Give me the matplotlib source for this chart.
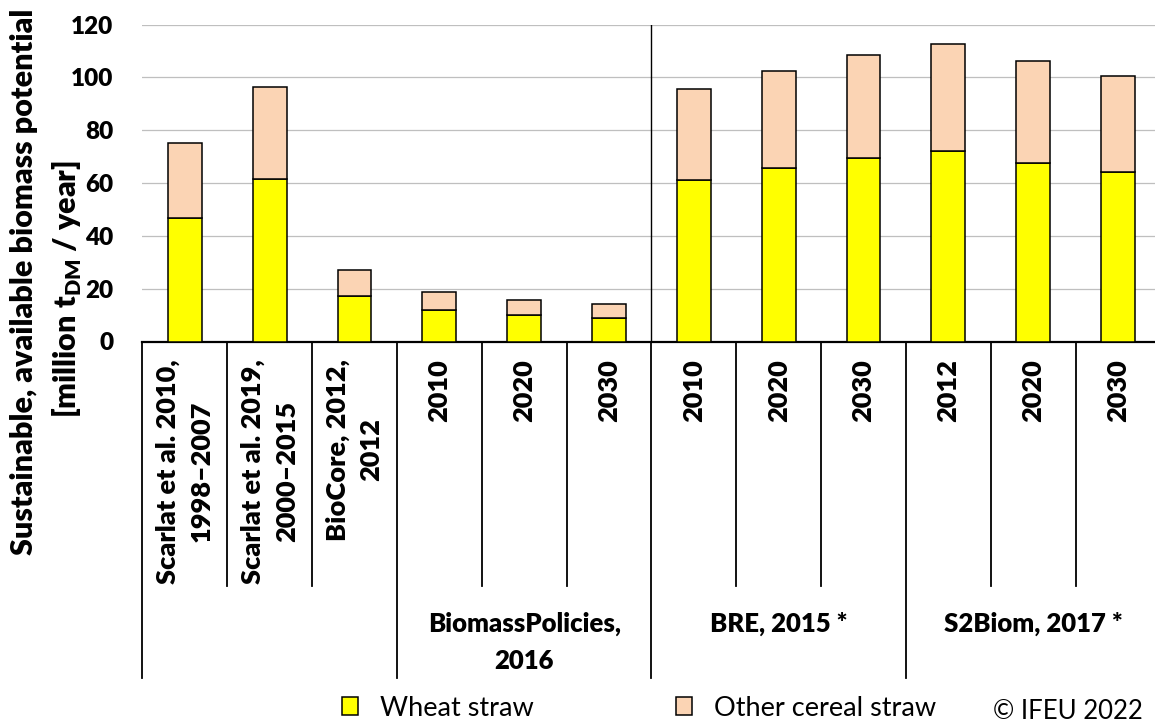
import matplotlib
matplotlib.use('Agg')
import matplotlib.pyplot as plt
import matplotlib.transforms as mtransforms
import numpy as np

# values, million t DM / year
labels_l1 = ['Scarlat et al. 2010,\n1998\u20132007', 'Scarlat et al. 2019,\n2000\u20132015',
             'BioCore, 2012,\n2012', '2010', '2020', '2030',
             '2010', '2020', '2030', '2012', '2020', '2030']
groups = [('', 0, 3), ('BiomassPolicies,\n2016', 3, 6),
          ('BRE, 2015 *', 6, 9), ('S2Biom, 2017 *', 9, 12)]
wheat = [46.7, 61.6, 17.3, 11.9, 10.0, 8.9, 61.0, 65.5, 69.4, 72.2, 67.7, 64.3]
total = [75.2, 96.3, 27.1, 18.8, 15.7, 14.2, 95.4, 102.3, 108.4, 112.8, 106.0, 100.6]
other = [t - w for t, w in zip(total, wheat)]

plt.rcParams['font.family'] = ['Lato', 'DejaVu Sans']
plt.rcParams['mathtext.fontset'] = 'custom'
plt.rcParams['mathtext.rm'] = 'Lato'
BOLD = 'heavy'

W, H = 1155, 723
fig = plt.figure(figsize=(W / 100, H / 100), dpi=100)
ax = fig.add_axes([142.4 / W, 1 - 341.5 / H, 1018 / W, 317 / H])

x = np.arange(len(wheat))
ax.bar(x, wheat, 0.40, color='#FFFF00', edgecolor='black', linewidth=1.1, zorder=3,
       label='Wheat straw')
ax.bar(x, other, 0.40, bottom=wheat, color='#FBD4B4', edgecolor='black', linewidth=1.1,
       zorder=3, label='Other cereal straw')

ax.set_xlim(-0.5, 11.5)
ax.set_ylim(0, 120)
ax.set_yticks(range(0, 121, 20))
ax.yaxis.grid(True, color='#BFBFBF', linewidth=0.9)
ax.set_axisbelow(True)
for s in ['left', 'right', 'top']:
    ax.spines[s].set_visible(False)
ax.spines['bottom'].set_linewidth(1.6)
ax.tick_params(axis='y', length=0, pad=21, labelsize=17.5)
for t in ax.get_yticklabels():
    t.set_fontweight(BOLD)
ax.set_xticks([])
ax.axvline(5.5, color='black', linewidth=1.0, zorder=2)

# multi-level category axis
trans = mtransforms.blended_transform_factory(ax.transData, fig.transFigure)
def fy(py):
    return 1 - py / H

for i, lab in enumerate(labels_l1):
    ax.text(i, fy(359), lab, transform=trans, rotation=90, ha='center', va='top',
            multialignment='center', fontsize=19.5, fontweight=BOLD, linespacing=1.5)

outer = [0, 3, 6, 9, 12]
for b in range(13):
    y1 = 678 if b in outer else 586
    ax.plot([b - 0.5, b - 0.5], [fy(341.5), fy(y1)], transform=trans, color='black',
            linewidth=1.3, clip_on=False)

for name, a, b in groups:
    if name:
        ax.text((a + b - 1) / 2, fy(632), name.split('\n')[0], transform=trans,
                ha='center', va='baseline', fontsize=18.5, fontweight=BOLD)
        if '\n' in name:
            ax.text((a + b - 1) / 2, fy(669), name.split('\n')[1], transform=trans,
                    ha='center', va='baseline', fontsize=18.5, fontweight=BOLD)

fig.text(33 / W, fy(282), 'Sustainable, available biomass potential', rotation=90,
         rotation_mode='anchor', ha='center', va='baseline', fontsize=22, fontweight=BOLD)
fig.text(77 / W, fy(289), '[million t$_{\\mathregular{DM}}$ / year]', rotation=90,
         rotation_mode='anchor', ha='center', va='baseline', fontsize=22, fontweight=BOLD)

leg = fig.legend(loc='center left', bbox_to_anchor=(342 / W, fy(708)), ncol=2, frameon=False,
                 fontsize=19.5, handlelength=0.6, handleheight=0.6, handletextpad=0.8,
                 columnspacing=5.25, borderaxespad=0, borderpad=0)
fig.text(1143 / W, fy(719), '\u00a9 IFEU 2022', ha='right', va='baseline', fontsize=18.5)

fig.savefig('out.png', dpi=100)
